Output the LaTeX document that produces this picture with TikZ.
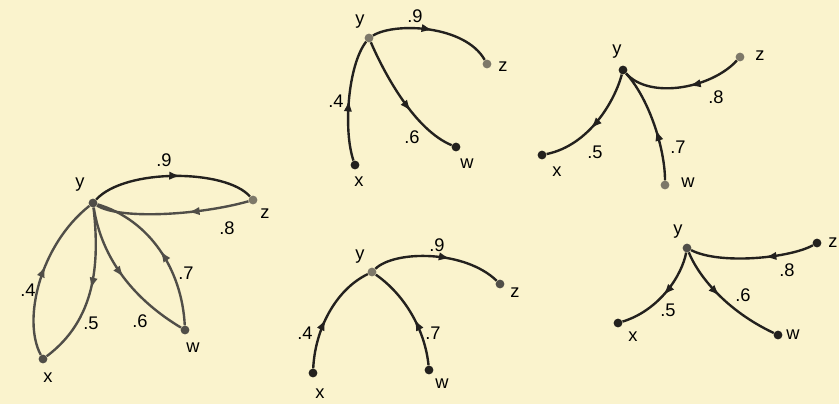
\documentclass[tikz,border=0pt]{standalone}
\usepackage{fontspec}
\setmainfont{Liberation Sans}
\usepackage{tikz}
\usetikzlibrary{arrows.meta,decorations.markings}
\definecolor{paper}{RGB}{250,243,205}
\definecolor{ink}{RGB}{35,33,30}
\definecolor{inkgray}{RGB}{80,78,72}
\definecolor{dotgray}{RGB}{125,120,105}

\begin{document}
\begin{tikzpicture}[x=0.025cm, y=-0.025cm,
  dot/.style={circle, fill=ink, inner sep=0pt, minimum size=0.22cm},
  lbl/.style={font=\fontsize{13}{15}\selectfont, inner sep=1pt},
  edge/.style={line width=1.7pt, draw=ink},
  midarrow/.style={postaction={decorate, decoration={markings,
      mark=at position #1 with {\arrow{Latex[length=2.9mm,width=2.1mm]}}}}},
  midarrow/.default=0.5
]
\fill[paper] (0,0) rectangle (839,404);
\useasboundingbox (0,0) rectangle (839,404);

% full graph
\node[dot, fill=inkgray] (y1) at (93,203) {};
\node[dot, fill=dotgray] (z1) at (253,200) {};
\node[dot, fill=inkgray] (x1) at (43,359) {};
\node[dot, fill=inkgray] (w1) at (185,330) {};
\draw[edge, midarrow=0.55] (y1) .. controls (125,168) and (226,169) .. (z1);
\draw[edge, draw=inkgray, midarrow=0.4] (z1) .. controls (200,215) and (120,220) .. (y1);
\draw[edge, draw=inkgray, midarrow=0.55] (x1) .. controls (22,320) and (40,245) .. (y1);
\draw[edge, draw=inkgray, midarrow=0.5] (y1) .. controls (100,265) and (95,320) .. (x1);
\draw[edge, draw=inkgray, midarrow=0.5] (y1) .. controls (102,260) and (135,300) .. (w1);
\draw[edge, draw=inkgray, midarrow=0.5] (w1) .. controls (182,270) and (150,220) .. (y1);
\node[lbl] (ly1) at (80,185) {y};
\node[lbl] (lz1) at (265,214) {z};
\node[lbl] (lx1) at (48,378) {x};
\node[lbl] (lw1) at (193,348) {w};
\node[lbl] (n1a) at (164,160) {.9};
\node[lbl] (n1b) at (227,228) {.8};
\node[lbl] (n1c) at (28,290) {.4};
\node[lbl] (n1d) at (91,323) {.5};
\node[lbl] (n1e) at (140,321) {.6};
\node[lbl] (n1f) at (186,273) {.7};

% top middle
\node[dot, fill=dotgray] (y2) at (369,38) {};
\node[dot, fill=dotgray] (z2) at (487,64) {};
\node[dot] (x2) at (355,165) {};
\node[dot] (w2) at (456,147) {};
\draw[edge, midarrow] (y2) .. controls (395,22) and (465,25) .. (z2);
\draw[edge, midarrow=0.5] (x2) .. controls (343,130) and (348,65) .. (y2);
\draw[edge, midarrow=0.6] (y2) .. controls (385,75) and (415,130) .. (w2);
\node[lbl] (ly2) at (360,22) {y};
\node[lbl] (lz2) at (503,67) {z};
\node[lbl] (lx2) at (359,182) {x};
\node[lbl] (lw2) at (467,164) {w};
\node[lbl] (n2a) at (415,16) {.9};
\node[lbl] (n2b) at (336,101) {.4};
\node[lbl] (n2c) at (412,137) {.6};

% top right
\node[dot] (y3) at (623,70) {};
\node[dot, fill=dotgray] (z3) at (740,57) {};
\node[dot] (x3) at (542,155) {};
\node[dot, fill=dotgray] (w3) at (665,185) {};
\draw[edge, midarrow=0.45] (z3) .. controls (712,88) and (650,100) .. (y3);
\draw[edge, midarrow=0.55] (y3) .. controls (615,100) and (590,145) .. (x3);
\draw[edge, midarrow=0.45] (w3) .. controls (665,150) and (650,100) .. (y3);
\node[lbl] (ly3) at (617,52) {y};
\node[lbl] (lz3) at (760,56) {z};
\node[lbl] (lx3) at (557,172) {x};
\node[lbl] (lw3) at (688,183) {w};
\node[lbl] (n3a) at (716,97) {.8};
\node[lbl] (n3b) at (595,152) {.5};
\node[lbl] (n3c) at (678,147) {.7};

% bottom middle
\node[dot, fill=dotgray] (y4) at (372,272) {};
\node[dot, fill=inkgray] (z4) at (500,284) {};
\node[dot] (x4) at (313,373) {};
\node[dot] (w4) at (429,370) {};
\draw[edge, midarrow=0.6] (y4) .. controls (395,250) and (465,250) .. (z4);
\draw[edge, midarrow=0.45] (x4) .. controls (315,330) and (335,290) .. (y4);
\draw[edge, midarrow=0.45] (w4) .. controls (425,330) and (405,295) .. (y4);
\node[lbl] (ly4) at (360,257) {y};
\node[lbl] (lz4) at (515,293) {z};
\node[lbl] (lx4) at (320,394) {x};
\node[lbl] (lw4) at (442,384) {w};
\node[lbl] (n4a) at (437,245) {.9};
\node[lbl] (n4b) at (305,333) {.4};
\node[lbl] (n4c) at (433,333) {.7};

% bottom right
\node[dot, fill=inkgray] (y5) at (687,248) {};
\node[dot] (z5) at (817,243) {};
\node[dot] (x5) at (618,323) {};
\node[dot] (w5) at (778,335) {};
\draw[edge, midarrow=0.4] (z5) .. controls (790,258) and (720,265) .. (y5);
\draw[edge, midarrow=0.5] (y5) .. controls (682,275) and (660,310) .. (x5);
\draw[edge, midarrow=0.45] (y5) .. controls (698,275) and (725,310) .. (w5);
\node[lbl] (ly5) at (678,232) {y};
\node[lbl] (lz5) at (833,243) {z};
\node[lbl] (lx5) at (633,337) {x};
\node[lbl] (lw5) at (793,335) {w};
\node[lbl] (n5a) at (787,270) {.8};
\node[lbl] (n5b) at (668,310) {.5};
\node[lbl] (n5c) at (743,295) {.6};
\end{tikzpicture}
\end{document}
